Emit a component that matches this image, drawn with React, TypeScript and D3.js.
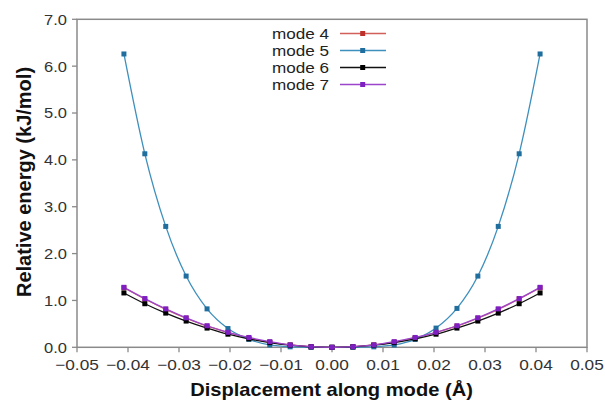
import React from "react";
import * as d3 from "d3";

const displacement = [
  -0.0408, -0.0367, -0.0326, -0.0286, -0.0245, -0.0204, -0.0163, -0.0122, -0.0082, -0.0041,
  0.0, 0.0041, 0.0082, 0.0122, 0.0163, 0.0204, 0.0245, 0.0286, 0.0326, 0.0367, 0.0408,
];
const mode4 = [1.27, 1.03, 0.81, 0.62, 0.45, 0.32, 0.2, 0.11, 0.05, 0.012, 0.0, 0.012, 0.05, 0.11, 0.2, 0.32, 0.45, 0.62, 0.81, 1.03, 1.27];
const mode5 = [6.26, 4.13, 2.58, 1.52, 0.82, 0.4, 0.17, 0.05, 0.01, 0.0, 0.0, 0.0, 0.01, 0.05, 0.17, 0.41, 0.83, 1.52, 2.58, 4.13, 6.26];
const mode6 = [1.16, 0.93, 0.73, 0.56, 0.41, 0.28, 0.18, 0.1, 0.045, 0.01, 0.0, 0.01, 0.045, 0.1, 0.18, 0.28, 0.41, 0.56, 0.73, 0.93, 1.16];
const mode7 = [1.28, 1.04, 0.82, 0.63, 0.46, 0.32, 0.21, 0.12, 0.05, 0.013, 0.0, 0.013, 0.05, 0.12, 0.21, 0.32, 0.46, 0.63, 0.82, 1.04, 1.28];

const seriesNames = ["mode 4", "mode 5", "mode 6", "mode 7"];
const seriesValues = [mode4, mode5, mode6, mode7];
const lineColors = ["#d2605a", "#3d8fbd", "#111111", "#9c45cc"];
const markerColors = ["#c0302a", "#1f6e9e", "#000000", "#7e1fc2"];

const xTicks = [-0.05, -0.04, -0.03, -0.02, -0.01, 0.0, 0.01, 0.02, 0.03, 0.04, 0.05];
const yTicks = [0, 1, 2, 3, 4, 5, 6, 7];

const W = 605;
const H = 402;
const left = 77;
const right = 587;
const top = 19.3;
const bottom = 347.3;
const FONT = "'Liberation Sans', Arial, Helvetica, sans-serif";
const SX = 1.15;
const axisGrey = "#8a8a8a";

export default function App() {
  const x = d3.scaleLinear().domain([-0.05, 0.05]).range([left, right]);
  const y = d3.scaleLinear().domain([0, 7]).range([bottom, top]);
  const line = d3
    .line<number>()
    .x((_, i) => x(displacement[i]))
    .y((v) => y(v))
    .curve(d3.curveMonotoneX);

  const fmtX = (v: number) => {
    const s = Math.abs(v).toFixed(2);
    return v < -1e-9 ? "\u2212" + s : s;
  };

  const ms = 5;

  return (
    <svg
      width={W}
      height={H}
      style={{ position: "absolute", left: 0, top: 0, background: "#fff" }}
      fontFamily={FONT}
    >
      <rect x={0} y={0} width={W} height={H} fill="#fff" />
      {/* frame */}
      <rect x={left} y={top} width={right - left} height={bottom - top} fill="none" stroke={axisGrey} strokeWidth={1.5} />
      {/* x ticks */}
      {xTicks.map((t) => (
        <g key={"xt" + t}>
          <line x1={x(t)} x2={x(t)} y1={bottom} y2={bottom + 5} stroke={axisGrey} strokeWidth={1.3} />
          <text
            transform={`translate(${x(t)},${370}) scale(${SX},1)`}
            textAnchor="middle"
            fontSize={15}
            fill="#333"
          >
            {fmtX(t)}
          </text>
        </g>
      ))}
      {/* y ticks */}
      {yTicks.map((t) => (
        <g key={"yt" + t}>
          <line x1={left - 5} x2={left} y1={y(t)} y2={y(t)} stroke={axisGrey} strokeWidth={1.3} />
          <text
            transform={`translate(${67},${y(t) + 5.4}) scale(1.1,1)`}
            textAnchor="end"
            fontSize={15}
            fill="#333"
          >
            {t.toFixed(1)}
          </text>
        </g>
      ))}
      {/* axis titles */}
      <text
        transform={`translate(${331.5},${395.5}) scale(1.118,1)`}
        textAnchor="middle"
        fontSize={18}
        fontWeight="bold"
        fill="#111"
      >
        Displacement along mode (Å)
      </text>
      <text
        transform={`translate(${31},${182}) rotate(-90)`}
        textAnchor="middle"
        fontSize={20}
        fontWeight="bold"
        fill="#111"
      >
        Relative energy (kJ/mol)
      </text>
      {/* series */}
      {seriesValues.map((vals, si) => (
        <g key={"s" + si}>
          <path d={line(vals) || ""} fill="none" stroke={lineColors[si]} strokeWidth={1.3} />
          {vals.map((v, i) => (
            <rect
              key={i}
              x={x(displacement[i]) - ms / 2}
              y={y(v) - ms / 2}
              width={ms}
              height={ms}
              fill={markerColors[si]}
            />
          ))}
        </g>
      ))}
      {/* legend */}
      {seriesNames.map((name, si) => {
        const cy = 33.5 + si * 17;
        return (
          <g key={"lg" + si}>
            <text
              transform={`translate(${329},${cy + 5.2}) scale(1.18,1)`}
              textAnchor="end"
              fontSize={14.5}
              fill="#222"
            >
              {name}
            </text>
            <line x1={340} x2={386} y1={cy} y2={cy} stroke={lineColors[si]} strokeWidth={1.4} />
            <rect x={362.7 - 2.5} y={cy - 2.5} width={5} height={5} fill={markerColors[si]} />
          </g>
        );
      })}
    </svg>
  );
}
